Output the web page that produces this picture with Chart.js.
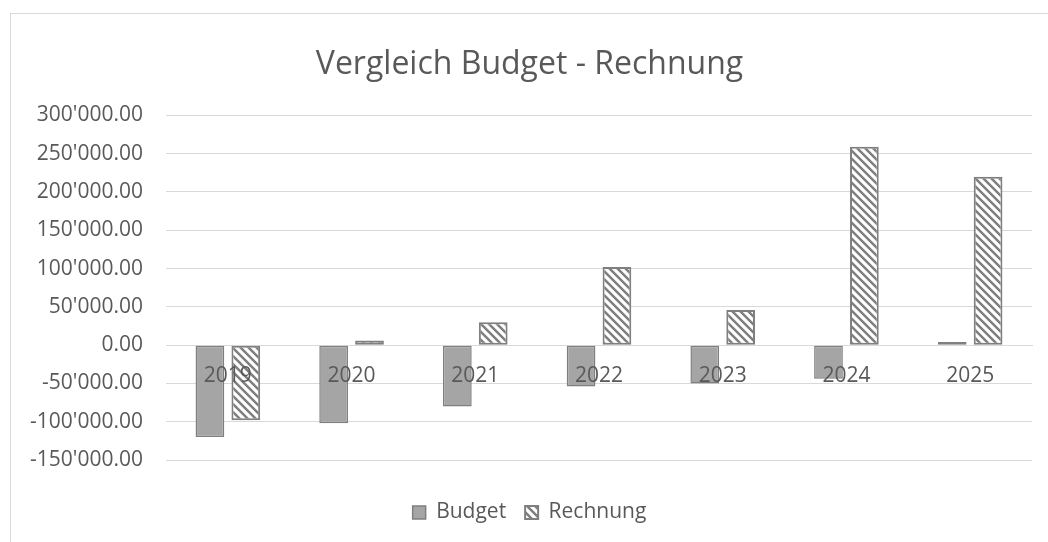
<!DOCTYPE html>
<html>
<head>
<meta charset="utf-8">
<script src="https://cdn.jsdelivr.net/npm/chart.js@4/dist/chart.umd.min.js"></script>
<style>
  html, body { margin: 0; padding: 0; background: #fff; overflow: hidden; width: 1048px; height: 542px; }
  #rahmen { position: absolute; left: 10px; top: 13px; width: 1050px; height: 600px; border: 1px solid #d9d9d9; background: #fff; }
  #chart { position: absolute; left: 0; top: 0; }
</style>
</head>
<body>
<div id="rahmen"><canvas id="chart" width="1050" height="519"></canvas></div>
<script>
// Daten
const jahre = ['2019', '2020', '2021', '2022', '2023', '2024', '2025'];
const budget = [-120000, -102000, -80000, -54000, -50000, -44000, 4000];
const rechnung = [-98000, 6000, 30000, 102000, 46000, 259000, 220000];

const grau = '#595959';
const schrift = "'Open Sans', 'Noto Sans', sans-serif";

// Schraffur fuer die Rechnung-Balken
const musterCanvas = document.createElement('canvas');
musterCanvas.width = 8;
musterCanvas.height = 8;
const mctx = musterCanvas.getContext('2d');
mctx.fillStyle = '#ffffff';
mctx.fillRect(0, 0, 8, 8);
mctx.strokeStyle = '#7f7f7f';
mctx.lineWidth = 2.5;
mctx.beginPath();
mctx.moveTo(-2, -2); mctx.lineTo(10, 10);
mctx.moveTo(-10, -2); mctx.lineTo(2, 10);
mctx.moveTo(6, -2); mctx.lineTo(18, 10);
mctx.stroke();
const schraffur = document.getElementById('chart').getContext('2d').createPattern(musterCanvas, 'repeat');

const formatZahl = (wert) => {
    let negativ = wert < 0;
    let [ganz, dez] = Math.abs(wert).toFixed(2).split('.');
    ganz = ganz.replace(/\B(?=(\d{3})+(?!\d))/g, "'");
    return (negativ ? '-' : '') + ganz + '.' + dez;
};

new Chart(document.getElementById('chart'), {
    type: 'bar',
    data: {
        labels: jahre,
        datasets: [
            {
                label: 'Budget',
                data: budget,
                backgroundColor: '#a5a5a5',
                borderColor: '#7f7f7f',
                borderWidth: 1.5,
                borderSkipped: false,
                categoryPercentage: 0.58,
                barPercentage: 0.8
            },
            {
                label: 'Rechnung',
                data: rechnung,
                backgroundColor: schraffur,
                borderColor: '#7f7f7f',
                borderWidth: 2,
                borderSkipped: false,
                categoryPercentage: 0.58,
                barPercentage: 0.8
            }
        ]
    },
    options: {
        responsive: false,
        animation: false,
        devicePixelRatio: 1,
        layout: { padding: { left: 16, right: 29, top: 0, bottom: 0 } },
        plugins: {
            title: {
                display: true,
                text: 'Vergleich Budget - Rechnung',
                color: grau,
                font: { family: schrift, size: 32, weight: 'normal' },
                padding: { top: 32, bottom: 31 }
            },
            legend: {
                position: 'bottom',
                // leerer Titel nur als Abstand zur Grafik
                title: {
                    display: true,
                    text: ' ',
                    font: { size: 5, lineHeight: 1 },
                    padding: { top: 18, bottom: 0 }
                },
                labels: {
                    color: grau,
                    font: { family: schrift, size: 21 },
                    boxWidth: 13,
                    boxHeight: 13,
                    padding: 19
                }
            },
            tooltip: { enabled: false }
        },
        scales: {
            x: {
                position: { y: 0 },
                grid: { display: false, drawTicks: false },
                border: { display: true, color: '#d9d9d9', width: 1 },
                ticks: { z: 1, color: grau, font: { family: schrift, size: 21 }, padding: 18 }
            },
            y: {
                min: -150000,
                max: 300000,
                afterFit: (scale) => { scale.width = 139; },
                grid: { color: '#d9d9d9', drawTicks: false },
                border: { display: false },
                ticks: {
                    stepSize: 50000,
                    color: grau,
                    padding: 23,
                    font: { family: schrift, size: 21 },
                    callback: (wert) => formatZahl(wert)
                }
            }
        }
    }
});
</script>
</body>
</html>
